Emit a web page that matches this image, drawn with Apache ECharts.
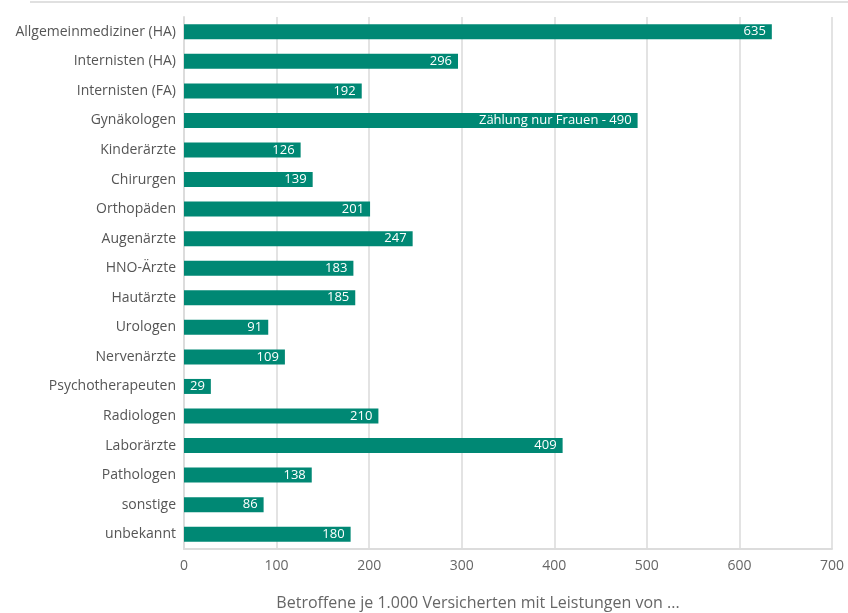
<!DOCTYPE html>
<html>
<head>
<meta charset="utf-8">
<script src="https://cdn.jsdelivr.net/npm/echarts@6/dist/echarts.min.js"></script>
<style>
  html, body { margin: 0; padding: 0; background: #fff; }
  #chart { width: 848px; height: 613px; }
</style>
</head>
<body>
<div id="chart"></div>
<script>
// Fachgruppen, top to bottom
const categories = [
  "Allgemeinmediziner (HA)", "Internisten (HA)", "Internisten (FA)", "Gynäkologen",
  "Kinderärzte", "Chirurgen", "Orthopäden", "Augenärzte", "HNO-Ärzte", "Hautärzte",
  "Urologen", "Nervenärzte", "Psychotherapeuten", "Radiologen", "Laborärzte",
  "Pathologen", "sonstige", "unbekannt"
];
const values = [635, 296, 192, 490, 126, 139, 201, 247, 183, 185, 91, 109, 29, 210, 409, 138, 86, 180];
const xTicks = [0, 100, 200, 300, 400, 500, 600, 700];

const fontFam = "'Open Sans', 'Noto Sans', sans-serif";
const chart = echarts.init(document.getElementById("chart"));

chart.setOption({
  animation: false,
  grid: { left: 184, right: 16, top: 17, bottom: 64, containLabel: false, outerBoundsMode: "none" },
  graphic: [
    {
      type: "line",
      shape: { x1: 30, y1: 2, x2: 848, y2: 2 },
      style: { stroke: "#e0e0e0", lineWidth: 2 },
      silent: true
    }
  ],
  xAxis: {
    type: "value",
    min: xTicks[0],
    max: xTicks[xTicks.length - 1],
    interval: 100,
    axisLine: { show: true, lineStyle: { color: "#dcdcdc", width: 2 } },
    axisTick: { show: false },
    splitLine: { show: true, lineStyle: { color: "#e3e3e3", width: 2 } },
    axisLabel: { color: "#666", fontSize: 14, fontFamily: fontFam, margin: 10 },
    name: "Betroffene je 1.000 Versicherten mit Leistungen von ...",
    nameLocation: "middle",
    nameGap: 46,
    nameTextStyle: { color: "#666", fontSize: 16, fontFamily: fontFam, padding: [0, 60, 0, 0] }
  },
  yAxis: {
    type: "category",
    data: categories,
    inverse: true,
    axisLine: { show: true, lineStyle: { color: "#dcdcdc", width: 2 } },
    axisTick: { show: false },
    axisLabel: { color: "#555", fontSize: 14, fontFamily: fontFam, margin: 8 }
  },
  series: [
    {
      type: "bar",
      data: values,
      barWidth: 15,
      itemStyle: { color: "#008874" },
      label: {
        show: true,
        position: "insideRight",
        distance: 6,
        color: "#fff",
        fontSize: 13,
        fontFamily: fontFam,
        formatter: p => p.name === "Gynäkologen" ? "Zählung nur Frauen - " + p.value : p.value
      }
    }
  ]
});
</script>
</body>
</html>
